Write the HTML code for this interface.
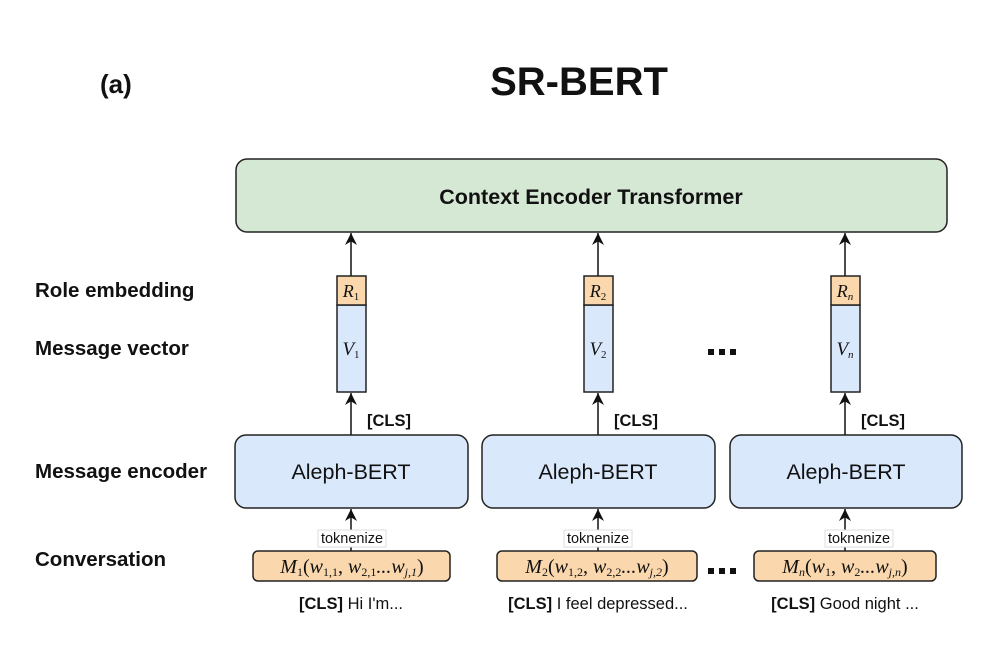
<!DOCTYPE html>
<html><head><meta charset="utf-8"><style>
html,body{margin:0;padding:0;background:#fff;}
svg{display:block;}
.b{font-family:"Liberation Sans",Arial,sans-serif;font-weight:bold;fill:#111;}
.r{font-family:"Liberation Sans",Arial,sans-serif;fill:#111;}
.m{font-family:"Liberation Serif","DejaVu Serif",serif;font-style:italic;fill:#111;}
</style></head><body>
<svg width="989" height="672" viewBox="0 0 989 672" xmlns="http://www.w3.org/2000/svg">
<defs><marker id="a" markerWidth="12" markerHeight="12" refX="10" refY="5" orient="auto" markerUnits="userSpaceOnUse" viewBox="0 0 10 10">
<path d="M0,0 L10,5 L0,10 L3,5 Z" fill="#111"/></marker></defs>
<text x="100" y="93" class="b" font-size="26">(a)</text>
<text x="579" y="95" class="b" font-size="40" text-anchor="middle">SR-BERT</text>
<rect x="236" y="159" width="711" height="73" rx="11" fill="#d5e8d4" stroke="#222" stroke-width="1.5"/>
<text x="591" y="204" class="b" font-size="21.5" text-anchor="middle">Context Encoder Transformer</text>
<text x="35" y="297" class="b" font-size="20.5">Role embedding</text>
<text x="35" y="355" class="b" font-size="20.5">Message vector</text>
<text x="35" y="478" class="b" font-size="20.5">Message encoder</text>
<text x="35" y="566" class="b" font-size="20.5">Conversation</text>
<g stroke="#111" stroke-width="1.5">
<line x1="351" y1="276" x2="351" y2="233" marker-end="url(#a)"/>
<line x1="598" y1="276" x2="598" y2="233" marker-end="url(#a)"/>
<line x1="845" y1="276" x2="845" y2="233" marker-end="url(#a)"/>
<line x1="351" y1="435" x2="351" y2="393" marker-end="url(#a)"/>
<line x1="598" y1="435" x2="598" y2="393" marker-end="url(#a)"/>
<line x1="845" y1="435" x2="845" y2="393" marker-end="url(#a)"/>
<line x1="351" y1="551" x2="351" y2="509" marker-end="url(#a)"/>
<line x1="598" y1="551" x2="598" y2="509" marker-end="url(#a)"/>
<line x1="845" y1="551" x2="845" y2="509" marker-end="url(#a)"/>
</g>
<g stroke="#222" stroke-width="1.5">
<rect x="337" y="305" width="29" height="87" fill="#dae8fc"/>
<rect x="337" y="276" width="29" height="29" fill="#fad7ac"/>
<rect x="584" y="305" width="29" height="87" fill="#dae8fc"/>
<rect x="584" y="276" width="29" height="29" fill="#fad7ac"/>
<rect x="831" y="305" width="29" height="87" fill="#dae8fc"/>
<rect x="831" y="276" width="29" height="29" fill="#fad7ac"/>
<rect x="235" y="435" width="233" height="73" rx="11" fill="#dae8fc"/>
<rect x="482" y="435" width="233" height="73" rx="11" fill="#dae8fc"/>
<rect x="730" y="435" width="232" height="73" rx="11" fill="#dae8fc"/>
<rect x="253" y="551" width="197" height="30" rx="5" fill="#fad7ac"/>
<rect x="497" y="551" width="200" height="30" rx="5" fill="#fad7ac"/>
<rect x="754" y="551" width="182" height="30" rx="5" fill="#fad7ac"/>
</g>
<text x="351" y="297" class="m" font-size="18" text-anchor="middle">R<tspan font-size="11" font-style="normal" dy="3">1</tspan></text>
<text x="598" y="297" class="m" font-size="18" text-anchor="middle">R<tspan font-size="11" font-style="normal" dy="3">2</tspan></text>
<text x="845" y="297" class="m" font-size="18" text-anchor="middle">R<tspan font-size="11" dy="3">n</tspan></text>
<text x="351" y="355" class="m" font-size="19" text-anchor="middle">V<tspan font-size="11" font-style="normal" dy="3">1</tspan></text>
<text x="598" y="355" class="m" font-size="19" text-anchor="middle">V<tspan font-size="11" font-style="normal" dy="3">2</tspan></text>
<text x="845" y="355" class="m" font-size="19" text-anchor="middle">V<tspan font-size="11" dy="3">n</tspan></text>
<g fill="#111">
<rect x="708" y="349" width="6" height="6"/><rect x="719" y="349" width="6" height="6"/><rect x="730" y="349" width="6" height="6"/>
<rect x="708" y="568" width="6" height="6"/><rect x="719" y="568" width="6" height="6"/><rect x="730" y="568" width="6" height="6"/>
</g>
<text x="367" y="426" class="b" font-size="16.5">[CLS]</text>
<text x="614" y="426" class="b" font-size="16.5">[CLS]</text>
<text x="861" y="426" class="b" font-size="16.5">[CLS]</text>
<text x="351" y="479" class="r" font-size="21.5" text-anchor="middle">Aleph-BERT</text>
<text x="598" y="479" class="r" font-size="21.5" text-anchor="middle">Aleph-BERT</text>
<text x="846" y="479" class="r" font-size="21.5" text-anchor="middle">Aleph-BERT</text>
<g fill="#fff" stroke="#ddd" stroke-width="1">
<rect x="318" y="530" width="68" height="17"/>
<rect x="564" y="530" width="68" height="17"/>
<rect x="825" y="530" width="68" height="17"/>
</g>
<text x="352" y="543" class="r" font-size="14.5" text-anchor="middle">toknenize</text>
<text x="598" y="543" class="r" font-size="14.5" text-anchor="middle">toknenize</text>
<text x="859" y="543" class="r" font-size="14.5" text-anchor="middle">toknenize</text>
<text x="352" y="573" class="m" font-size="20" text-anchor="middle">M<tspan font-size="12" font-style="normal" dy="3">1</tspan><tspan font-style="normal" dy="-3">(</tspan>w<tspan font-size="12" font-style="normal" dy="3">1,1</tspan><tspan font-style="normal" dy="-3">, </tspan>w<tspan font-size="12" font-style="normal" dy="3">2,1</tspan><tspan dy="-3">...w</tspan><tspan font-size="12" dy="3">j,1</tspan><tspan font-style="normal" dy="-3">)</tspan></text>
<text x="597" y="573" class="m" font-size="20" text-anchor="middle">M<tspan font-size="12" font-style="normal" dy="3">2</tspan><tspan font-style="normal" dy="-3">(</tspan>w<tspan font-size="12" font-style="normal" dy="3">1,2</tspan><tspan font-style="normal" dy="-3">, </tspan>w<tspan font-size="12" font-style="normal" dy="3">2,2</tspan><tspan dy="-3">...w</tspan><tspan font-size="12" dy="3">j,2</tspan><tspan font-style="normal" dy="-3">)</tspan></text>
<text x="845" y="573" class="m" font-size="20" text-anchor="middle">M<tspan font-size="12" dy="3">n</tspan><tspan font-style="normal" dy="-3">(</tspan>w<tspan font-size="12" font-style="normal" dy="3">1</tspan><tspan font-style="normal" dy="-3">, </tspan>w<tspan font-size="12" font-style="normal" dy="3">2</tspan><tspan dy="-3">...w</tspan><tspan font-size="12" dy="3">j,n</tspan><tspan font-style="normal" dy="-3">)</tspan></text>
<text x="351" y="609" class="r" font-size="16.5" text-anchor="middle"><tspan font-weight="bold">[CLS]</tspan> Hi I'm...</text>
<text x="598" y="609" class="r" font-size="16.5" text-anchor="middle"><tspan font-weight="bold">[CLS]</tspan> I feel depressed...</text>
<text x="845" y="609" class="r" font-size="16.5" text-anchor="middle"><tspan font-weight="bold">[CLS]</tspan>  Good night ...</text>
</svg>
</body></html>
